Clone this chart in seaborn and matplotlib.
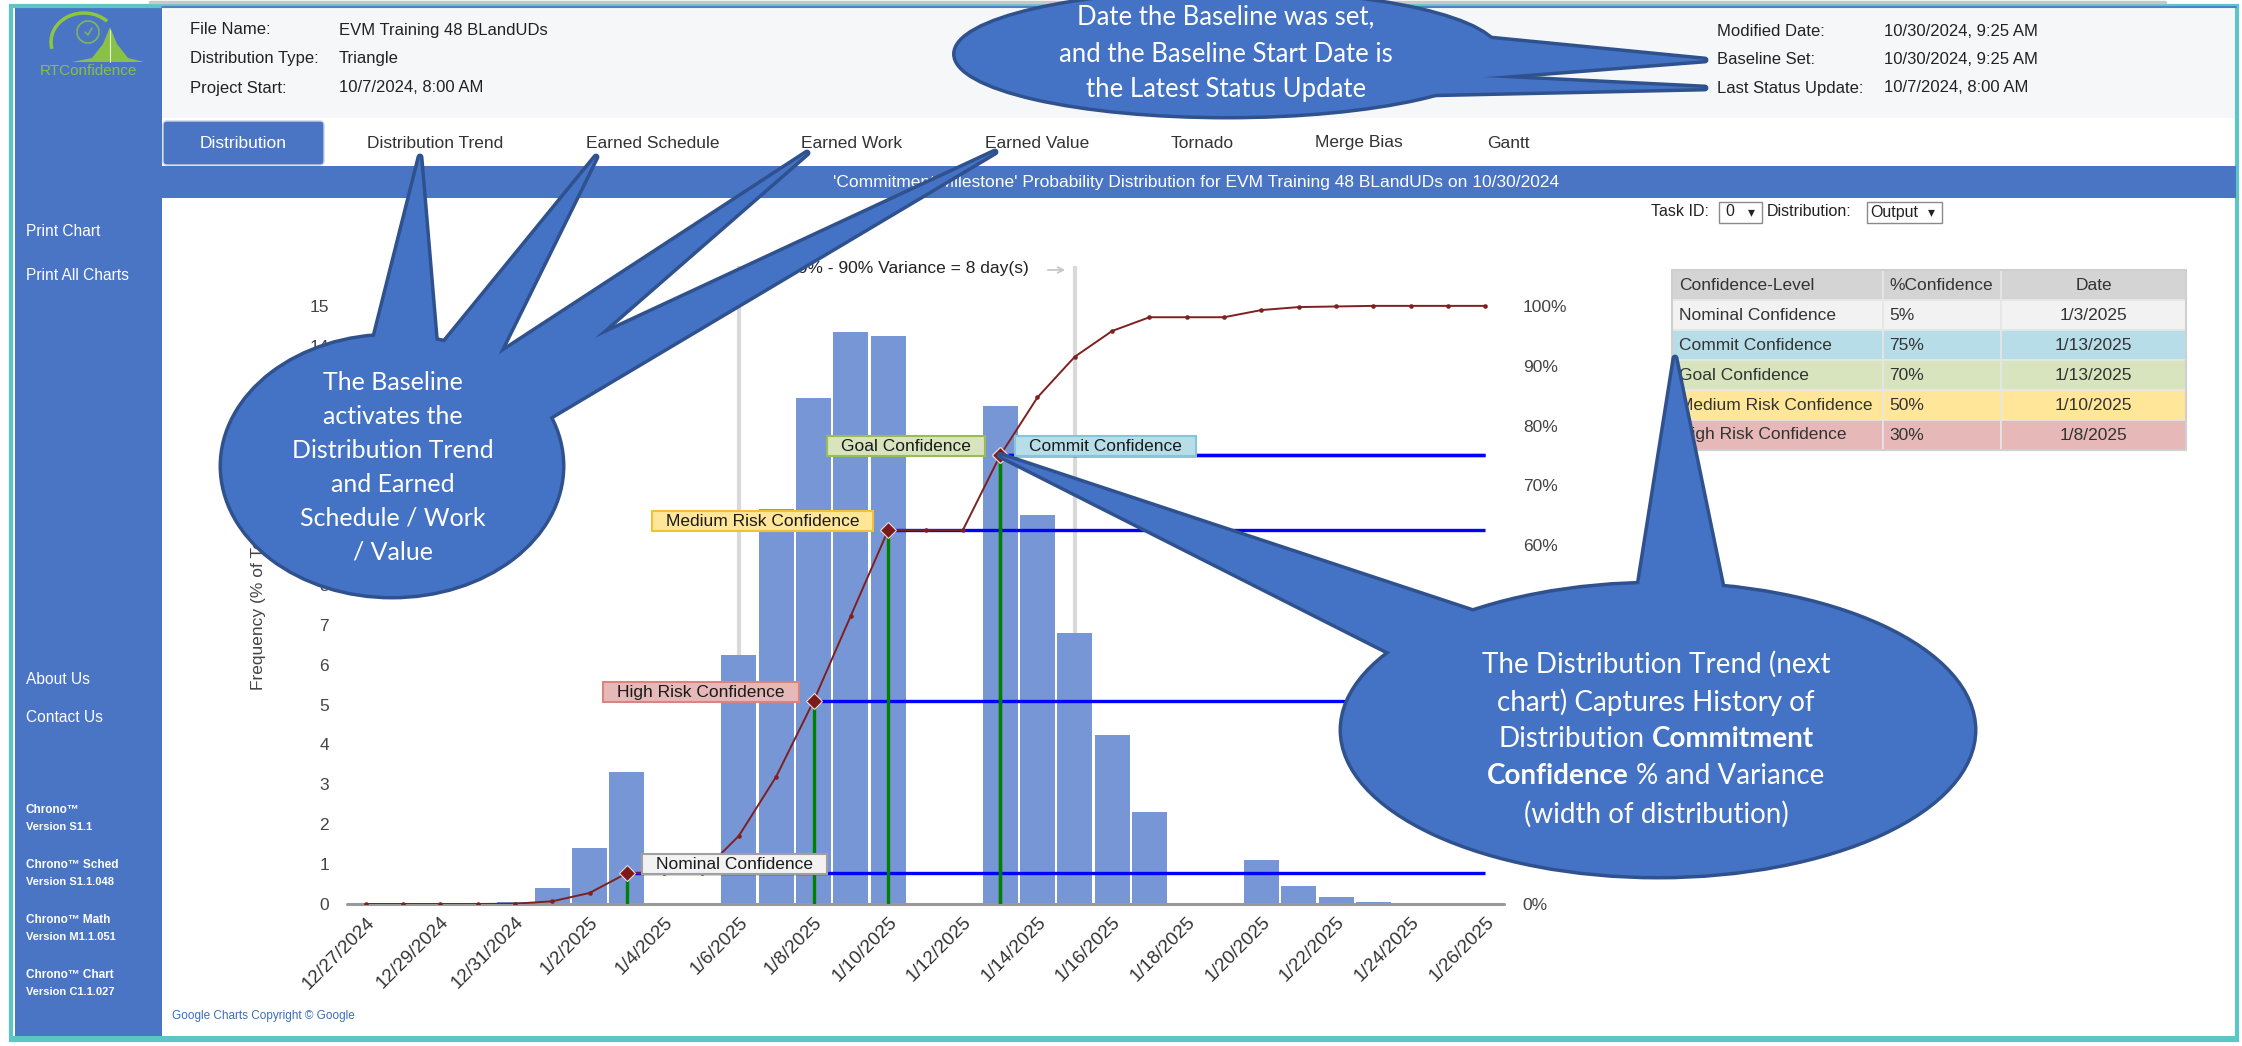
import numpy as np
import pandas as pd
import matplotlib
matplotlib.use('Agg')
import matplotlib.pyplot as plt
from matplotlib.patches import Rectangle, Ellipse, Polygon, FancyBboxPatch, Circle, Arc
from matplotlib.transforms import IdentityTransform
import seaborn as sns

sns.set_style('white')
plt.rcParams['font.family'] = ['Liberation Sans', 'DejaVu Sans']

# ---------------- data ----------------
dates = ['12/27/2024', '12/28/2024', '12/29/2024', '12/30/2024', '12/31/2024',
         '1/1/2025', '1/2/2025', '1/3/2025', '1/4/2025', '1/5/2025', '1/6/2025',
         '1/7/2025', '1/8/2025', '1/9/2025', '1/10/2025', '1/11/2025', '1/12/2025',
         '1/13/2025', '1/14/2025', '1/15/2025', '1/16/2025', '1/17/2025', '1/18/2025',
         '1/19/2025', '1/20/2025', '1/21/2025', '1/22/2025', '1/23/2025', '1/24/2025',
         '1/25/2025', '1/26/2025']
freq = [0, 0, 0, 0, 0.05, 0.4, 1.4, 3.3, 0, 0, 6.25, 9.9, 12.7, 14.35, 14.25, 0, 0,
        12.5, 9.75, 6.8, 4.25, 2.3, 0, 0, 1.1, 0.45, 0.17, 0.04, 0, 0, 0]
cdf = [0, 0, 0, 0, 0.05, 0.45, 1.85, 5.15, 5.15, 5.15, 11.4, 21.3, 33.9, 48.2, 62.5,
       62.5, 62.5, 75.0, 84.7, 91.5, 95.8, 98.1, 98.1, 98.1, 99.3, 99.8, 99.9, 100,
       100, 100, 100]

conf_names = ['Nominal Confidence', 'Commit Confidence', 'Goal Confidence',
              'Medium Risk Confidence', 'High Risk Confidence']
conf_pct = ['5%', '75%', '70%', '50%', '30%']
conf_dates = ['1/3/2025', '1/13/2025', '1/13/2025', '1/10/2025', '1/8/2025']
variance_dates = ['1/6/2025', '1/15/2025']
variance_text = '10% - 90% Variance = 8 day(s)'

file_info = [('File Name:', 'EVM Training 48 BLandUDs'),
             ('Distribution Type:', 'Triangle'),
             ('Project Start:', '10/7/2024, 8:00 AM')]
date_info = [('Modified Date:', '10/30/2024, 9:25 AM'),
             ('Baseline Set:', '10/30/2024, 9:25 AM'),
             ('Last Status Update:', '10/7/2024, 8:00 AM')]
tabs = ['Distribution', 'Distribution Trend', 'Earned Schedule', 'Earned Work',
        'Earned Value', 'Tornado', 'Merge Bias', 'Gantt']
title = "'Commitment Milestone' Probability Distribution for EVM Training 48 BLandUDs on 10/30/2024"
menu_top = ['Print Chart', 'Print All Charts']
menu_bottom = ['About Us', 'Contact Us']
versions = [('Chrono™', 'Version S1.1'), ('Chrono™ Sched', 'Version S1.1.048'),
            ('Chrono™ Math', 'Version M1.1.051'), ('Chrono™ Chart', 'Version C1.1.027')]

# ---------------- styles / layout (pixels) ----------------
W, H = 2242, 1046
AX_L, AX_R, AX_T, AX_B = 347, 1504, 266, 904
BLUE = '#4a75c5'
BAR = '#7796d5'
CDF_C = '#7f2020'
conf_face = ['#f2f2f2', '#b7dee8', '#d7e4bd', '#ffe699', '#e6b9b8']
conf_edge = ['#a0a0a0', '#86c5d8', '#9bbb59', '#f2c13c', '#d98480']
label_side = [1, 1, -1, -1, -1]
TXT = '#444444'
# tick labels that sit completely under the callout bubbles
covered_left = range(9, 14)
covered_right = range(10, 51, 10)

fig = plt.figure(figsize=(W / 100, H / 100), dpi=100)
fig.patch.set_facecolor('white')

# background / page chrome
bg = fig.add_axes([0, 0, 1, 1], zorder=0)
bg.set_xlim(0, W)
bg.set_ylim(H, 0)
bg.set_axis_off()

bg.plot([150, 2165], [2, 2], color='#c8c8c8', lw=2.5)
bg.add_patch(Rectangle((162, 7), 2074, 111, fc='#f6f7f9', ec='none'))
bg.plot([162, 2236], [6.5, 6.5], color=BLUE, lw=1.2)
bg.add_patch(Rectangle((15, 7), 147, 1030, fc=BLUE, ec='none'))
bg.add_patch(Rectangle((11, 6), 2226, 1034, fill=False, ec='#5cc6c6', lw=3))
bg.add_patch(Rectangle((11, 1036), 2226, 6, fc='#5cc6c6', ec='none'))
bg.add_patch(Rectangle((162, 166), 2074, 32, fc=BLUE, ec='none'))
bg.add_patch(FancyBboxPatch((163, 121), 161, 44, boxstyle='round,pad=0,rounding_size=4',
                            fc=BLUE, ec='#c9d3e6', lw=1))

# logo
green = '#8dc63f'
bg.add_patch(Polygon([(72, 62), (92, 58), (103, 44), (110, 27), (117, 44), (128, 58), (144, 62)],
                     fc=green, ec='none', alpha=0.95))
bg.plot([110, 110], [30, 62], color='white', lw=0.8, alpha=0.8)
bg.add_patch(Arc((84, 42), 66, 58, theta1=168, theta2=318, color=green, lw=2.5))
bg.add_patch(Circle((88, 32), 11, fill=False, ec=green, lw=1.2, alpha=0.8))
bg.plot([85, 88, 92], [32, 35, 28], color=green, lw=1.1, alpha=0.8)
bg.text(88, 71, 'RTConfidence', color=green, fontsize=11, ha='center', va='center', alpha=0.9)

# header text
for i, (k, v) in enumerate(file_info):
    y = 30 + i * 29
    bg.text(190, y, k, fontsize=12, color='#222222', va='center')
    bg.text(339, y, v, fontsize=12, color='#222222', va='center')
for i, (k, v) in enumerate(date_info):
    y = 31 + i * 28.5
    bg.text(1717, y, k, fontsize=12, color='#222222', va='center')
    bg.text(1884, y, v, fontsize=12, color='#222222', va='center')

# tabs + title bar
tab_x = [243, 435, 653, 852, 1037, 1202, 1359, 1508]
for i, (t, x) in enumerate(zip(tabs, tab_x)):
    bg.text(x, 143, t, fontsize=12.5, ha='center', va='center',
            color='white' if i == 0 else '#333333')
bg.text(1196, 182, title, fontsize=12.5, color='white', ha='center', va='center')

# task id row
bg.text(1651, 212, 'Task ID:', fontsize=11.5, color='#222222', va='center')
bg.add_patch(Rectangle((1719, 202), 43, 21, fc='white', ec='#8a8a8a', lw=1))
bg.text(1725, 212, '0', fontsize=11.5, color='#222222', va='center')
bg.text(1748, 212, '▾', fontsize=10, color='#222222', va='center',
        family=['DejaVu Sans'])
bg.text(1767, 212, 'Distribution:', fontsize=11.5, color='#222222', va='center')
bg.add_patch(Rectangle((1867, 202), 75, 21, fc='white', ec='#8a8a8a', lw=1))
bg.text(1870, 212, 'Output', fontsize=11.5, color='#222222', va='center')
bg.text(1928, 212, '▾', fontsize=10, color='#222222', va='center',
        family=['DejaVu Sans'])

# sidebar text
for t, y in zip(menu_top, [232, 275]):
    bg.text(26, y, t, fontsize=11.2, color='white', va='center')
for t, y in zip(menu_bottom, [679, 718]):
    bg.text(26, y, t, fontsize=11.2, color='white', va='center')
for (a, b), y in zip(versions, [810, 865, 920, 975]):
    bg.text(26, y, a, fontsize=8.5, color='white', va='center', fontweight='bold')
    bg.text(26, y + 17, b, fontsize=8, color='white', va='center', fontweight='bold')
bg.text(172, 1016, 'Google Charts Copyright © Google', fontsize=8.5, color='#3a6fb5',
        va='center')

# confidence table
tab_cols = [1672, 1883, 2001, 2186]
row_top, row_h = 270, 30
rows = [('Confidence-Level', '%Confidence', 'Date')] + list(zip(conf_names, conf_pct, conf_dates))
row_face = ['#d4d4d4'] + conf_face
for r, (row, fc) in enumerate(zip(rows, row_face)):
    y0 = row_top + r * row_h
    for c in range(3):
        bg.add_patch(Rectangle((tab_cols[c], y0), tab_cols[c + 1] - tab_cols[c], row_h,
                               fc=fc, ec='#e6e6e6', lw=1.2))
    yc = y0 + row_h / 2
    bg.text(tab_cols[0] + 7, yc, row[0], fontsize=12.5, color='#333333', va='center')
    bg.text(tab_cols[1] + 6, yc, row[1], fontsize=12.5, color='#333333', va='center')
    bg.text((tab_cols[2] + tab_cols[3]) / 2, yc, row[2], fontsize=12.5, color='#333333',
            va='center', ha='center')
bg.add_patch(Rectangle((tab_cols[0], row_top), tab_cols[3] - tab_cols[0], row_h * 6,
                       fill=False, ec='#cfcfcf', lw=1.5))

# chart texts outside axes
bg.text(1029, 269, variance_text, fontsize=12.5, color='#222222', ha='right', va='center')
bg.annotate('', xy=(1068, 270), xytext=(1045, 270),
            arrowprops=dict(arrowstyle='->', color='#c8c8c8', lw=1.3))
bg.text(258, 603, 'Frequency (% of Total)', fontsize=12.5, color=TXT, rotation=90,
        ha='center', va='center')

# ---------------- the chart ----------------
ax = fig.add_axes([AX_L / W, 1 - AX_B / H, (AX_R - AX_L) / W, (AX_B - AX_T) / H], zorder=1)
ax.patch.set_visible(False)
df = pd.DataFrame({'date': dates, 'freq': freq})
var_idx = [dates.index(d) for d in variance_dates]
ax.vlines(var_idx, 0, 16, color='#d9d9d9', lw=3, zorder=1)
sns.barplot(data=df, x='date', y='freq', order=dates, color=BAR, saturation=1,
            width=0.94, linewidth=0, ax=ax, zorder=3)
ax.set_xlim(-0.5, len(dates) - 0.5)
ax.set_ylim(0, 16)
ax.set_yticks(range(0, 16))
ax.set_yticklabels(['' if v in covered_left else str(v) for v in range(0, 16)])
ax.set_xticks(range(0, len(dates), 2))
ax.set_xticklabels(dates[::2], rotation=45, ha='right', rotation_mode='anchor')
ax.set_xlabel('')
ax.set_ylabel('')
ax.tick_params(axis='y', length=0, pad=13, labelsize=12.5, labelcolor=TXT)
ax.tick_params(axis='x', length=0, pad=7, labelsize=13.5, labelcolor='#333333')
for s in ax.spines.values():
    s.set_visible(False)
ax.axhline(0, color='#999999', lw=2.2, zorder=4, clip_on=False)

ax2 = ax.twinx()
ax2.set_zorder(2)
ax2.patch.set_visible(False)
ax2.set_ylim(0, 16 / 15 * 100)
ax2.set_yticks(range(0, 101, 10))
ax2.set_yticklabels(['' if v in covered_right else f'{v}%' for v in range(0, 101, 10)])
ax2.tick_params(axis='y', length=0, pad=13.5, labelsize=12.5, labelcolor=TXT)
for s in ax2.spines.values():
    s.set_visible(False)

conf_idx = [dates.index(d) for d in conf_dates]
conf_y = [cdf[i] for i in conf_idx]
ax2.hlines(conf_y, conf_idx, len(dates) - 1, color='#0000ff', lw=2.4, zorder=3)
ax2.vlines(conf_idx, 0, conf_y, color='#008000', lw=2.4, zorder=3)
sns.lineplot(x=list(range(len(dates))), y=cdf, ax=ax2, color=CDF_C, lw=1.4,
             marker='o', markersize=3.3, markeredgewidth=0, zorder=4)
ax2.plot(conf_idx, conf_y, linestyle='none', marker='D', markersize=8.5, color='#7b1a1a',
         markeredgecolor='#e8dada', markeredgewidth=0.8, zorder=6)
ax2.set_ylabel('')

renderer = fig.canvas.get_renderer()
for i, name in enumerate(conf_names):
    side = label_side[i]
    t = ax2.annotate(name, xy=(conf_idx[i], conf_y[i]), xytext=(side * 29, 9),
                     textcoords='offset pixels', ha='left' if side > 0 else 'right',
                     va='center', fontsize=12.5, color='#1a1a1a', zorder=8)
    bb = t.get_window_extent(renderer)
    yc = (bb.y0 + bb.y1) / 2
    ax2.add_patch(Rectangle((bb.x0 - 14, yc - 10), bb.width + 28, 20,
                            transform=IdentityTransform(), fc=conf_face[i],
                            ec=conf_edge[i], lw=1.5, zorder=7))

# ---------------- callouts ----------------
ov = fig.add_axes([0, 0, 1, 1], zorder=10)
ov.set_xlim(0, W)
ov.set_ylim(H, 0)
ov.set_axis_off()
ov.patch.set_visible(False)

def callout(center, w, h, pointers, z, lw=5):
    face, edge = '#4472c4', '#2f528f'
    ov.add_patch(Ellipse(center, w, h, fc=face, ec=edge, lw=lw, zorder=z))
    for p in pointers:
        ov.add_patch(Polygon(p, closed=True, fc=face, ec=edge, lw=lw, joinstyle='round', zorder=z))
    ov.add_patch(Ellipse(center, w, h, fc=face, ec='none', zorder=z + 1))
    for p in pointers:
        ov.add_patch(Polygon(p, closed=True, fc=face, ec='none', zorder=z + 1))

def lines_of(xc, ys, lines, size):
    for s, y in zip(lines, ys):
        ov.text(xc, y, s, fontsize=size, color='white', ha='center', va='center',
                family=['Lato', 'DejaVu Sans'], zorder=30)

def rich_line(xc, y, parts, size):
    probe1 = ov.text(0, 0, 'x x', fontsize=size, family=['Lato', 'DejaVu Sans'])
    probe2 = ov.text(0, 0, 'xx', fontsize=size, family=['Lato', 'DejaVu Sans'])
    gap = probe1.get_window_extent(renderer).width - probe2.get_window_extent(renderer).width
    probe1.remove()
    probe2.remove()
    texts = [ov.text(0, y, s, fontsize=size, fontweight=wt, color='white', ha='left',
                     va='center', family=['Lato', 'DejaVu Sans'], zorder=30) for s, wt in parts]
    widths = [t.get_window_extent(renderer).width for t in texts]
    x = xc - (sum(widths) + gap * (len(texts) - 1)) / 2
    for t, wd in zip(texts, widths):
        t.set_x(x)
        x += wd + gap

# top callout -> header dates
callout((1227, 54), 543, 124,
        [[(1480, 38), (1474, 78), (1705, 60)],
         [(1462, 76), (1425, 94), (1705, 88)]], z=20)
lines_of(1226, [17, 54, 90], ['Date the Baseline was set,', 'and the Baseline Start Date is',
                              'the Latest Status Update'], 18.5)

# left callout -> tabs
callout((392, 466), 340, 260,
        [[(373, 344), (436, 347), (420, 157)],
         [(440, 348), (490, 372), (596, 157)],
         [(487, 362), (526, 398), (807, 153)],
         [(500, 382), (538, 424), (995, 152)]], z=20)
lines_of(393, [382, 416, 450, 484, 518, 552],
         ['The Baseline', 'activates the', 'Distribution Trend', 'and Earned',
          'Schedule / Work', '/ Value'], 18)

# right callout -> commit diamond and table
dx, dy = ax2.transData.transform((conf_idx[1], conf_y[1]))
tip = (dx, H - dy)
callout((1658, 730), 632, 292,
        [[(1480, 614), (1405, 660), tip],
         [(1636, 604), (1726, 606), (1675, 358)]], z=22)
rc = 1656
rich_line(rc, 664, [('The Distribution Trend (next', 'normal')], 20)
rich_line(rc, 702, [('chart) Captures History of', 'normal')], 20)
rich_line(rc, 739, [('Distribution', 'normal'), ('Commitment', 'bold')], 20)
rich_line(rc, 776, [('Confidence', 'bold'), ('% and Variance', 'normal')], 20)
rich_line(rc, 814, [('(width of distribution)', 'normal')], 20)

fig.savefig('out.png', dpi=100)
